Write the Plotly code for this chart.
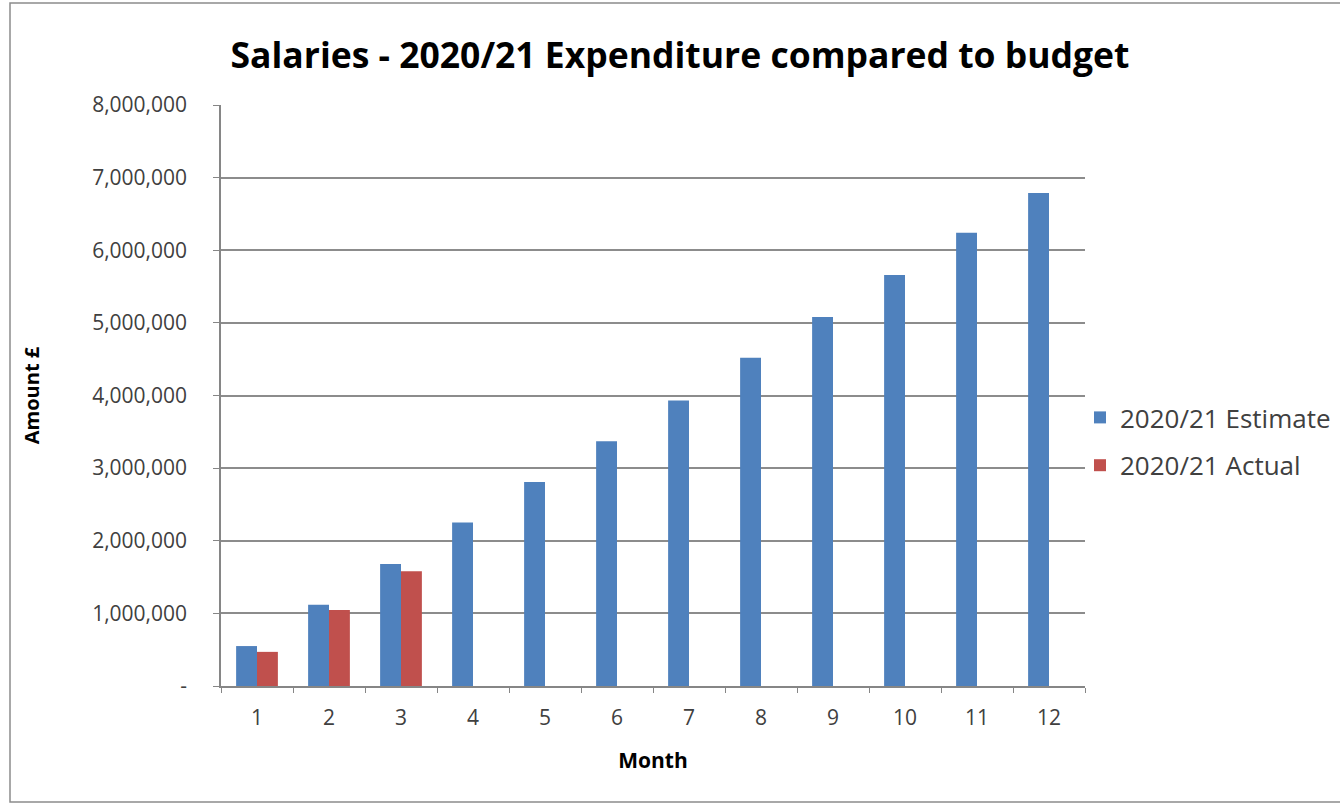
import plotly.graph_objects as go

months = [str(m) for m in range(1, 13)]
estimate = [550000, 1120000, 1680000, 2250000, 2810000, 3370000, 3930000,
            4520000, 5080000, 5660000, 6240000, 6790000]
actual = [470000, 1045000, 1580000]
y_ticks = [0, 1000000, 2000000, 3000000, 4000000, 5000000, 6000000, 7000000, 8000000]
y_tick_labels = ["-", "1,000,000", "2,000,000", "3,000,000", "4,000,000",
                 "5,000,000", "6,000,000", "7,000,000", "8,000,000"]

W, H = 1340, 805
ML, MR, MT, MB = 221, 255, 105, 119
FONT = "'Open Sans', sans-serif"

fig = go.Figure()
fig.add_trace(go.Bar(x=months, y=estimate, name="2020/21 Estimate", legendgroup="est",
                     marker=dict(color="#4F81BD", line=dict(width=0))))
fig.add_trace(go.Bar(x=months[:len(actual)], y=actual, name="2020/21 Actual", legendgroup="act",
                     marker=dict(color="#C0504D", line=dict(width=0))))

pw = W - ML - MR
ph = H - MT - MB
def px_x(p):
    return (p - ML) / pw
def px_y(p):
    return (H - MB - p) / ph

fig.update_layout(
    width=W, height=H,
    margin=dict(l=ML, r=MR, t=MT, b=MB, autoexpand=False),
    paper_bgcolor="white", plot_bgcolor="white",
    barmode="group", bargap=0.42, bargroupgap=0,
    font=dict(family=FONT, color="#404040", size=21),
    title=dict(text="<b>Salaries - 2020/21 Expenditure compared to budget</b>",
               xref="container", x=680 / W, xanchor="center", y=1 - 56 / H, yanchor="middle",
               font=dict(family=FONT, size=35.5, color="#000000")),
    xaxis=dict(type="category", showgrid=False, showline=True, linecolor="#868686",
               linewidth=1.5, ticks="outside", ticklen=5, tickcolor="#868686",
               tickson="boundaries", ticklabelstandoff=12,
               title=dict(text="<b>Month</b>", font=dict(size=21, color="#000000"), standoff=23),
               tickfont=dict(size=21, color="#404040")),
    yaxis=dict(range=[0, 8000000], tickvals=y_ticks, ticktext=y_tick_labels,
               showgrid=True, gridcolor="#8C8C8C", gridwidth=1.5,
               showline=True, linecolor="#868686", linewidth=1.5,
               ticks="outside", ticklen=6, tickcolor="#868686", zeroline=False,
               ticklabelstandoff=22,
               title=dict(text="<b>Amount £</b>", font=dict(size=20, color="#000000"), standoff=47),
               tickfont=dict(size=21, color="#404040")),
    legend=dict(x=px_x(1080), y=px_y(394), xanchor="left", yanchor="top",
                font=dict(size=26, color="#404040"), traceorder="grouped", tracegroupgap=11,
                itemsizing="constant", bgcolor="rgba(0,0,0,0)"),
    shapes=[dict(type="rect", xref="paper", yref="paper",
                 x0=px_x(10), x1=px_x(1345), y0=px_y(802), y1=px_y(3),
                 line=dict(color="#8C8C8C", width=1.5), fillcolor="rgba(0,0,0,0)",
                 layer="below")],
)

fig.write_html("out.html", config={"displayModeBar": False},
               post_script="document.body.style.margin='0';")
